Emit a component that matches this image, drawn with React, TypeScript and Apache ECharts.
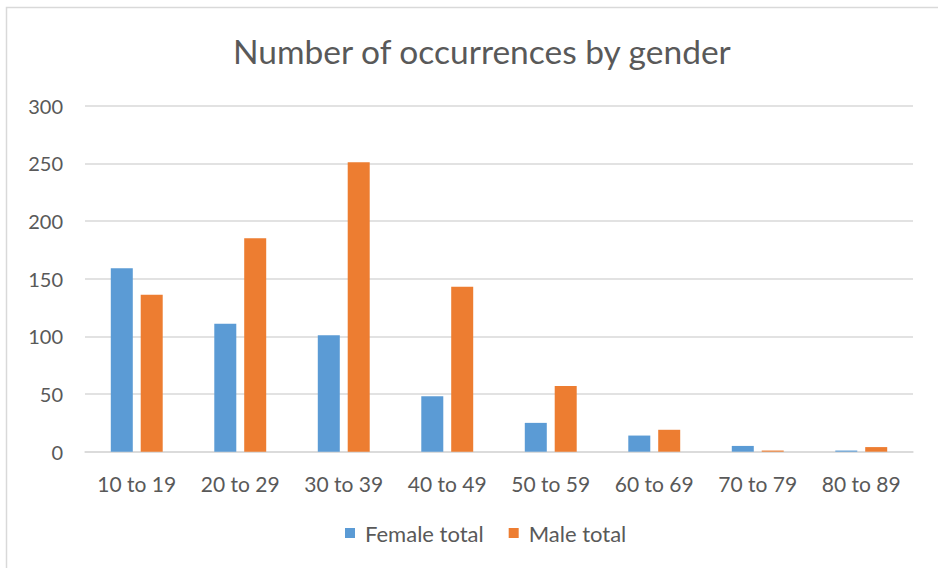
import React, { useEffect, useRef } from "react";
import * as echarts from "echarts";

const categories = ["10 to 19", "20 to 29", "30 to 39", "40 to 49", "50 to 59", "60 to 69", "70 to 79", "80 to 89"];
const femaleTotal = [159, 111, 101, 48, 25, 14, 5, 1];
const maleTotal = [136, 185, 251, 143, 57, 19, 1, 4];
const yTicks = [0, 50, 100, 150, 200, 250, 300];

const FONT = "Lato";
const TEXT = "#595959";

export default function App() {
  const ref = useRef<HTMLDivElement>(null);
  useEffect(() => {
    if (!ref.current) return;
    const chart = echarts.init(ref.current, null, { renderer: "svg" });
    chart.setOption({
      animation: false,
      backgroundColor: "#ffffff",
      title: {
        text: "Number of occurrences by gender",
        left: 228,
        top: 29,
        textStyle: { fontFamily: FONT, fontSize: 33.5, fontWeight: "normal", color: TEXT },
      },
      graphic: [
        {
          type: "rect",
          shape: { x: 6.5, y: 7.5, width: 1000, height: 1000 },
          style: { fill: "none", stroke: "#d9d9d9", lineWidth: 1.5 },
          silent: true,
        },
      ],
      legend: {
        data: ["Female total", "Male total"],
        bottom: 19,
        left: 340,
        itemWidth: 10,
        itemHeight: 10,
        itemGap: 25,
        icon: "rect",
        textStyle: { fontFamily: FONT, fontSize: 22, color: TEXT, padding: [0, 0, 0, 5] },
      },
      grid: { left: 85, right: 25, top: 105.7, bottom: 116.3, containLabel: false },
      xAxis: {
        type: "category",
        data: categories,
        axisTick: { show: false },
        axisLine: { lineStyle: { color: "#d9d9d9", width: 1.5 } },
        axisLabel: { fontFamily: FONT, fontSize: 21, color: TEXT, margin: 21 },
      },
      yAxis: {
        type: "value",
        min: yTicks[0],
        max: yTicks[yTicks.length - 1],
        interval: 50,
        axisLine: { show: false },
        axisTick: { show: false },
        splitLine: { lineStyle: { color: "#d9d9d9", width: 1.5 } },
        axisLabel: { fontFamily: FONT, fontSize: 20, color: TEXT, margin: 22 },
      },
      series: [
        {
          name: "Female total",
          type: "bar",
          data: femaleTotal,
          barWidth: 22,
          barGap: "36%",
          itemStyle: { color: "#5B9BD5" },
        },
        {
          name: "Male total",
          type: "bar",
          data: maleTotal,
          barWidth: 22,
          barGap: "36%",
          itemStyle: { color: "#ED7D31" },
        },
      ],
    });
    return () => chart.dispose();
  }, []);
  return (
    <div
      ref={ref}
      style={{ position: "absolute", left: 0, top: 0, width: 938, height: 568 }}
    />
  );
}
